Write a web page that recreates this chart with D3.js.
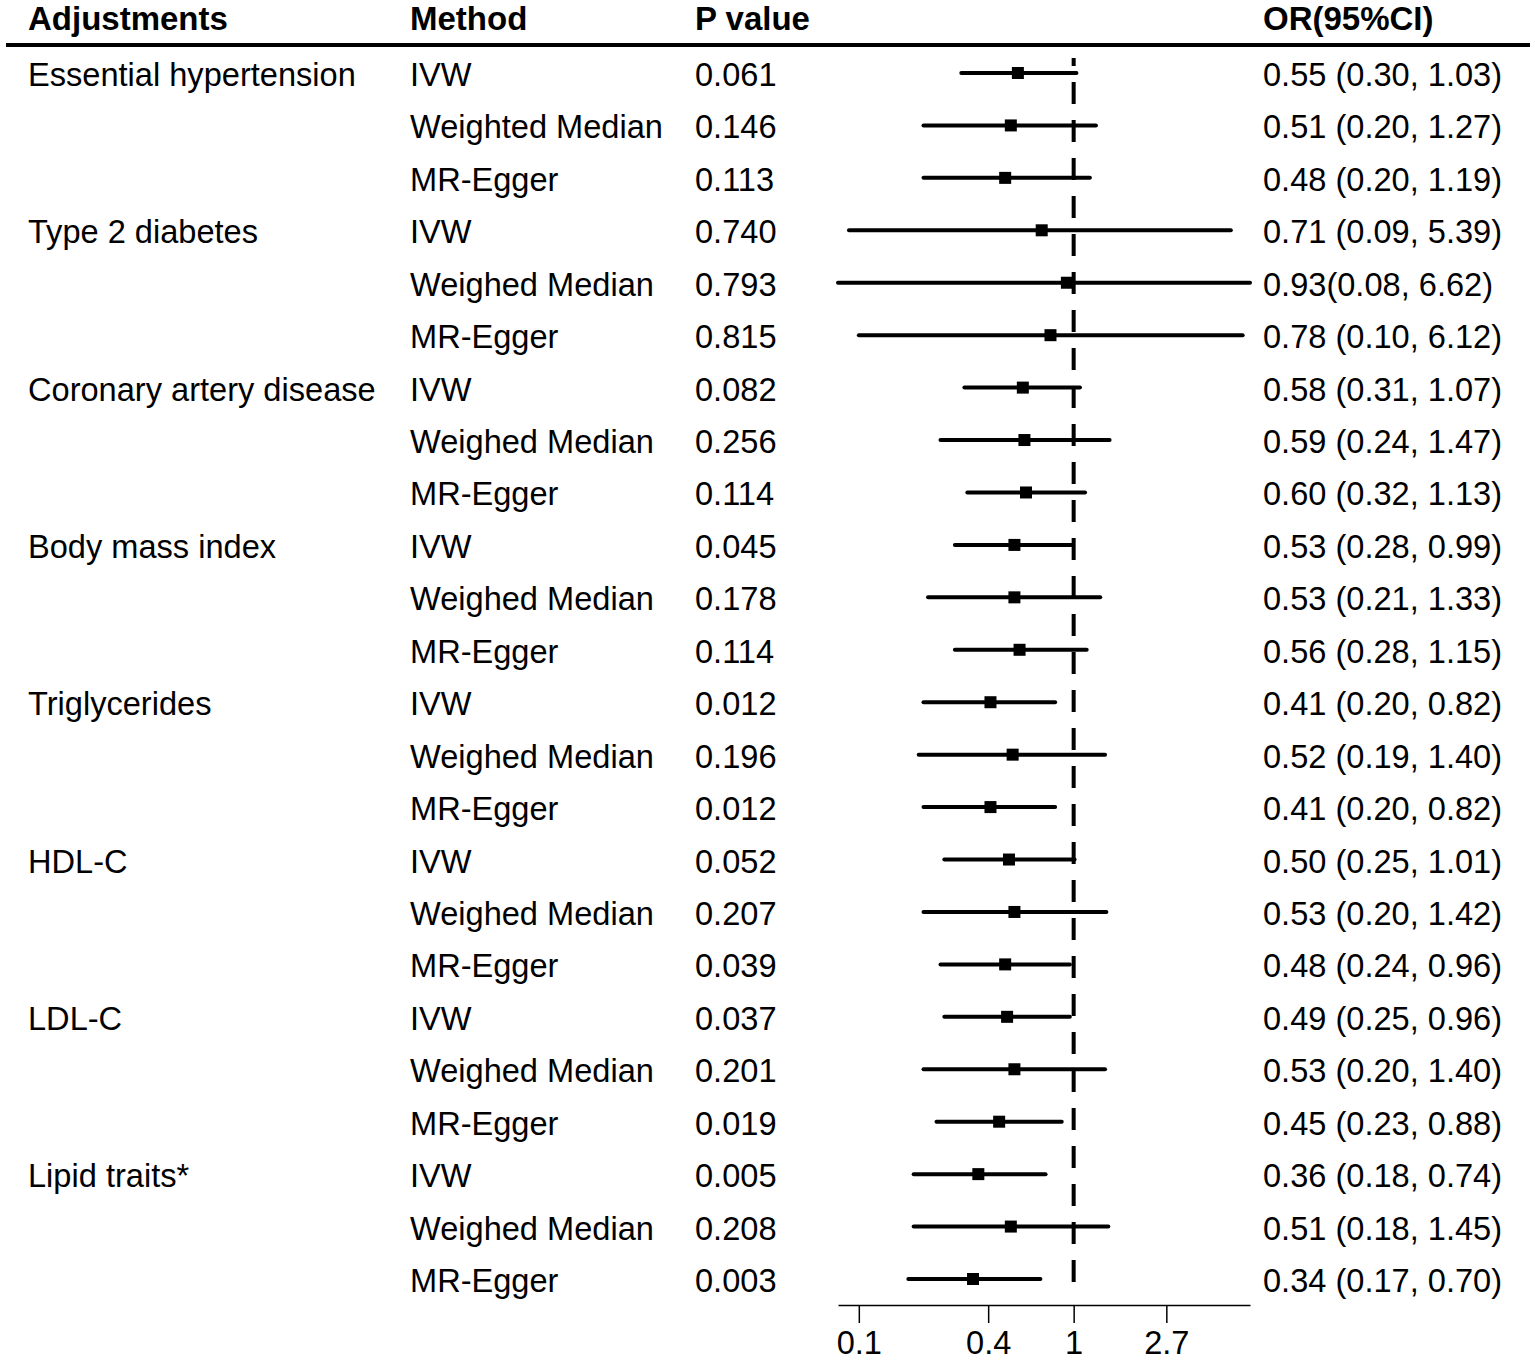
<!DOCTYPE html>
<html>
<head>
<meta charset="utf-8">
<script src="https://cdn.jsdelivr.net/npm/d3@7"></script>
<style>
    body {margin: 0; background: #fff;}
    svg text {font-family: "Liberation Sans", Arial, sans-serif; fill: #000;}
</style>
</head>
<body>
<div id="chartdiv"></div>
<script>
/*global d3 */

var headers = ["Adjustments", "Method", "P value", "OR(95%CI)"];

var adjustments = ["Essential hypertension", "Type 2 diabetes",
                   "Coronary artery disease", "Body mass index",
                   "Triglycerides", "HDL-C", "LDL-C", "Lipid traits*"];

var methods = [
    "IVW", "Weighted Median", "MR-Egger",
    "IVW", "Weighed Median", "MR-Egger",
    "IVW", "Weighed Median", "MR-Egger",
    "IVW", "Weighed Median", "MR-Egger",
    "IVW", "Weighed Median", "MR-Egger",
    "IVW", "Weighed Median", "MR-Egger",
    "IVW", "Weighed Median", "MR-Egger",
    "IVW", "Weighed Median", "MR-Egger"];

var pvalues = ["0.061", "0.146", "0.113", "0.740", "0.793", "0.815",
               "0.082", "0.256", "0.114", "0.045", "0.178", "0.114",
               "0.012", "0.196", "0.012", "0.052", "0.207", "0.039",
               "0.037", "0.201", "0.019", "0.005", "0.208", "0.003"];

var orValues = [0.55, 0.51, 0.48, 0.71, 0.93, 0.78, 0.58, 0.59, 0.60,
                0.53, 0.53, 0.56, 0.41, 0.52, 0.41, 0.50, 0.53, 0.48,
                0.49, 0.53, 0.45, 0.36, 0.51, 0.34];

var ciLower = [0.30, 0.20, 0.20, 0.09, 0.08, 0.10, 0.31, 0.24, 0.32,
               0.28, 0.21, 0.28, 0.20, 0.19, 0.20, 0.25, 0.20, 0.24,
               0.25, 0.20, 0.23, 0.18, 0.18, 0.17];

var ciUpper = [1.03, 1.27, 1.19, 5.39, 6.62, 6.12, 1.07, 1.47, 1.13,
               0.99, 1.33, 1.15, 0.82, 1.40, 0.82, 1.01, 1.42, 0.96,
               0.96, 1.40, 0.88, 0.74, 1.45, 0.70];

var orLabels = ["0.55 (0.30, 1.03)", "0.51 (0.20, 1.27)", "0.48 (0.20, 1.19)",
                "0.71 (0.09, 5.39)", "0.93(0.08, 6.62)", "0.78 (0.10, 6.12)",
                "0.58 (0.31, 1.07)", "0.59 (0.24, 1.47)", "0.60 (0.32, 1.13)",
                "0.53 (0.28, 0.99)", "0.53 (0.21, 1.33)", "0.56 (0.28, 1.15)",
                "0.41 (0.20, 0.82)", "0.52 (0.19, 1.40)", "0.41 (0.20, 0.82)",
                "0.50 (0.25, 1.01)", "0.53 (0.20, 1.42)", "0.48 (0.24, 0.96)",
                "0.49 (0.25, 0.96)", "0.53 (0.20, 1.40)", "0.45 (0.23, 0.88)",
                "0.36 (0.18, 0.74)", "0.51 (0.18, 1.45)", "0.34 (0.17, 0.70)"];

var tickValues = [0.1, 0.4, 1, 2.7];


(function () {
    "use strict";

    var W = 1535, H = 1364, fs = 32.6, hfs = 33,
        colx = [28, 410, 695, 1263],
        svg, x, y, rows, axisY = 1305;

    svg = d3.select("#chartdiv").append("svg")
        .attr("width", W)
        .attr("height", H);

    //log scale spanning the widest interval
    x = d3.scaleLog()
        .domain([d3.min(ciLower), d3.max(ciUpper)])
        .range([838, 1250]);

    y = d3.scalePoint()
        .domain(d3.range(orValues.length))
        .range([74, 1280]);

    //header row and rule
    svg.selectAll("text.hdr")
        .data(headers)
        .enter().append("text")
        .attr("class", "hdr")
        .attr("x", function (ignore, i) { return colx[i]; })
        .attr("y", 30)
        .attr("font-size", hfs)
        .attr("font-weight", "bold")
        .text(function (d) { return d; });
    svg.append("line")
        .attr("x1", 6).attr("x2", 1530)
        .attr("y1", 45).attr("y2", 45)
        .attr("stroke", "#000")
        .attr("stroke-width", 4);

    //reference line at OR = 1
    svg.append("line")
        .attr("x1", x(1)).attr("x2", x(1))
        .attr("y1", 58).attr("y2", 1295)
        .attr("stroke", "#000")
        .attr("stroke-width", 4)
        .attr("stroke-dasharray", "22,16")
        .attr("stroke-dashoffset", 14);

    rows = svg.selectAll("g.row")
        .data(orValues)
        .enter().append("g")
        .attr("class", "row")
        .attr("transform", function (ignore, i) {
            return "translate(0," + y(i) + ")"; });

    rows.append("text")
        .attr("x", colx[0])
        .attr("y", 12)
        .attr("font-size", fs)
        .text(function (ignore, i) {
            return i % 3 === 0 ? adjustments[i / 3] : ""; });
    rows.append("text")
        .attr("x", colx[1])
        .attr("y", 12)
        .attr("font-size", fs)
        .text(function (ignore, i) { return methods[i]; });
    rows.append("text")
        .attr("x", colx[2])
        .attr("y", 12)
        .attr("font-size", fs)
        .text(function (ignore, i) { return pvalues[i]; });
    rows.append("text")
        .attr("x", colx[3])
        .attr("y", 12)
        .attr("font-size", fs)
        .text(function (ignore, i) { return orLabels[i]; });

    rows.append("line")
        .attr("x1", function (ignore, i) { return x(ciLower[i]); })
        .attr("x2", function (ignore, i) { return x(ciUpper[i]); })
        .attr("y1", -1).attr("y2", -1)
        .attr("stroke", "#000")
        .attr("stroke-width", 4)
        .attr("stroke-linecap", "round");
    rows.append("rect")
        .attr("x", function (d) { return x(d) - 6; })
        .attr("y", -7)
        .attr("width", 12)
        .attr("height", 12)
        .attr("fill", "#000");

    //bottom axis
    svg.append("g")
        .attr("class", "axis")
        .attr("transform", "translate(0," + axisY + ")")
        .call(d3.axisBottom(x)
            .tickValues(tickValues)
            .tickFormat(function (d) { return String(d); })
            .tickSize(18)
            .tickSizeOuter(0)
            .tickPadding(8))
        .call(function (g) {
            g.select(".domain").attr("stroke-width", 1.5);
            g.selectAll(".tick line").attr("stroke-width", 1.5);
            g.selectAll(".tick text")
                .attr("font-size", fs)
                .attr("font-family", "Liberation Sans, Arial, sans-serif")
                .attr("fill", "#000"); });
}());
</script>
</body>
</html>
